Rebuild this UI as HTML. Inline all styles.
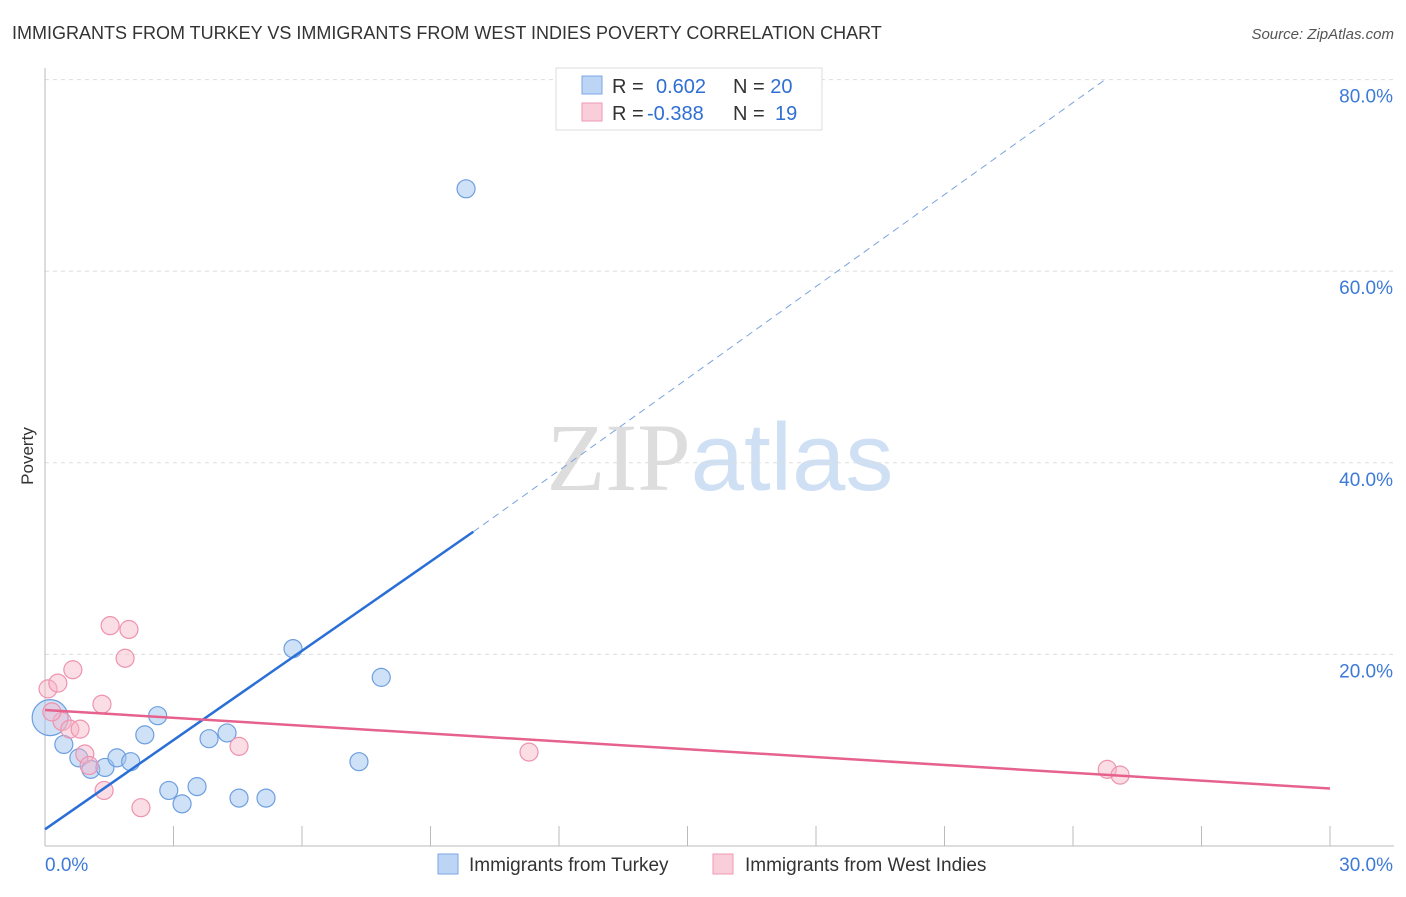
<!DOCTYPE html>
<html><head><meta charset="utf-8"><style>
body{margin:0;background:#fff;font-family:"Liberation Sans",sans-serif}
</style></head><body>
<svg id="c" width="1406" height="892" xmlns="http://www.w3.org/2000/svg" font-family="Liberation Sans, sans-serif">
<text x="12" y="39" font-size="18" fill="#333">IMMIGRANTS FROM TURKEY VS IMMIGRANTS FROM WEST INDIES POVERTY CORRELATION CHART</text>
<text x="1394" y="39" font-size="15" fill="#555" text-anchor="end" font-style="italic">Source: ZipAtlas.com</text>
<text x="720" y="490" font-size="96" text-anchor="middle"><tspan fill="#ddd" font-family="Liberation Serif, serif">ZIP</tspan><tspan fill="#cfe0f5">atlas</tspan></text>
<text transform="translate(33,456) rotate(-90)" font-size="17" fill="#333" text-anchor="middle">Poverty</text>
<g id="grid"></g><g id="pts"></g><g id="lines"></g>
<g>
<rect x="556" y="68" width="266" height="62" fill="#fff" stroke="#ddd"/>
<rect x="582" y="76" width="20" height="18" fill="#bcd5f5" stroke="#7aa7e3"/>
<text x="612" y="93" font-size="20" fill="#333">R = <tspan fill="#2f6fd3" x="656">0.602</tspan><tspan x="733">N = </tspan><tspan fill="#2f6fd3">20</tspan></text>
<rect x="582" y="103" width="20" height="18" fill="#f9cdd9" stroke="#ee9ab3"/>
<text x="612" y="120" font-size="20" fill="#333">R = <tspan fill="#2f6fd3" x="647">-0.388</tspan><tspan x="733">N = </tspan><tspan fill="#2f6fd3" x="775">19</tspan></text>
</g>
<g>
<rect x="438" y="854" width="20" height="20" fill="#bcd5f5" stroke="#7aa7e3"/>
<text x="469" y="871" font-size="19" fill="#333">Immigrants from Turkey</text>
<rect x="713" y="854" width="20" height="20" fill="#f9cdd9" stroke="#ee9ab3"/>
<text x="745" y="871" font-size="19" fill="#333">Immigrants from West Indies</text>
</g>
</svg>
<script>
const yTicks=[20,40,60,80];
const xTickLabels=["0.0%","30.0%"];
const turkeyX=[0.12,0.44,0.79,1.07,1.4,1.68,2.0,2.33,2.63,2.89,3.2,3.55,3.83,4.25,4.53,5.16,5.79,7.33,7.85,9.83];
const turkeyY=[6.7,5.3,4.6,4.0,4.1,4.6,4.4,5.8,6.8,2.9,2.2,3.1,5.6,5.9,2.5,2.5,10.3,4.4,8.8,34.3];
const westX=[0.07,0.3,0.65,1.52,1.96,1.87,1.33,0.4,0.58,0.82,0.93,1.03,1.38,2.24,4.53,11.3,24.8,25.1,0.16];
const westY=[8.2,8.5,9.2,11.5,11.3,9.8,7.4,6.5,6.1,6.1,4.8,4.2,2.9,2.0,5.2,4.9,4.0,3.7,7.0];
const turkeyTrend=[0,0.87,10,16.4];
const turkeyDashEnd=[24.75,40];
const westTrend=[0,7.1,30,3.0];
const X=v=>45+v/30*1285, Y=v=>846-v*19.16/2*2/ (1) ;
const Yp=v=>846-v*9.58*2;
const ns="http://www.w3.org/2000/svg";
function mk(t,a,p){const e=document.createElementNS(ns,t);for(const k in a)e.setAttribute(k,a[k]);document.getElementById(p).appendChild(e);return e;}
const sv=(v)=>846-v*19.16;
yTicks.forEach(t=>{
 const l=mk('line',{x1:45,x2:1394,y1:sv(t/2),y2:sv(t/2),stroke:'#ddd','stroke-dasharray':'4,4'},'grid');
 
 
 const tx=mk('text',{x:1393,y:sv(t/2)+23,'font-size':19,fill:'#3d7ad8','text-anchor':'end'},'grid');
 tx.textContent=t.toFixed(1)+'%';
 
 
});
mk('line',{x1:45,x2:45,y1:68,y2:846,stroke:'#bbb'},'grid');
mk('line',{x1:45,x2:1394,y1:846,y2:846,stroke:'#bbb'},'grid');
for(let i=1;i<=10;i++){mk('line',{x1:X(i*3),x2:X(i*3),y1:826,y2:846,stroke:'#bbb'},'grid');}
xTickLabels.forEach((s,i)=>{const t=mk('text',{x:i?1393:45,y:871,'font-size':19,fill:'#3d7ad8','text-anchor':i?'end':'start'},'grid');t.textContent=s;
 
 });
// y values in data are half-scale units; convert: percent = value*2? use direct percent
const yPct=v=>846-v*2*9.58;
turkeyX.forEach((x,i)=>{const c=mk('circle',{cx:X(x),cy:yPct(turkeyY[i]),r:i==0?18:9,fill:'rgba(160,196,240,0.5)',stroke:'#6d9fe0','stroke-width':1.2},'pts');
 
 });
westX.forEach((x,i)=>{const c=mk('circle',{cx:X(x),cy:yPct(westY[i]),r:9,fill:'rgba(246,180,200,0.45)',stroke:'#ee93ae','stroke-width':1.2},'pts');
 
 });
let l=mk('line',{x1:X(turkeyTrend[0]),y1:yPct(turkeyTrend[1]),x2:X(turkeyTrend[2]),y2:yPct(turkeyTrend[3]),stroke:'#2a6fd6','stroke-width':2.5},'lines');


l=mk('line',{x1:X(turkeyTrend[2]),y1:yPct(turkeyTrend[3]),x2:X(turkeyDashEnd[0]),y2:yPct(turkeyDashEnd[1]),stroke:'#7aa3dd','stroke-width':1,'stroke-dasharray':'7,5'},'lines');


l=mk('line',{x1:X(westTrend[0]),y1:yPct(westTrend[1]),x2:X(westTrend[2]),y2:yPct(westTrend[3]),stroke:'#e6628d','stroke-width':2.5},'lines');


</script>
</body></html>
